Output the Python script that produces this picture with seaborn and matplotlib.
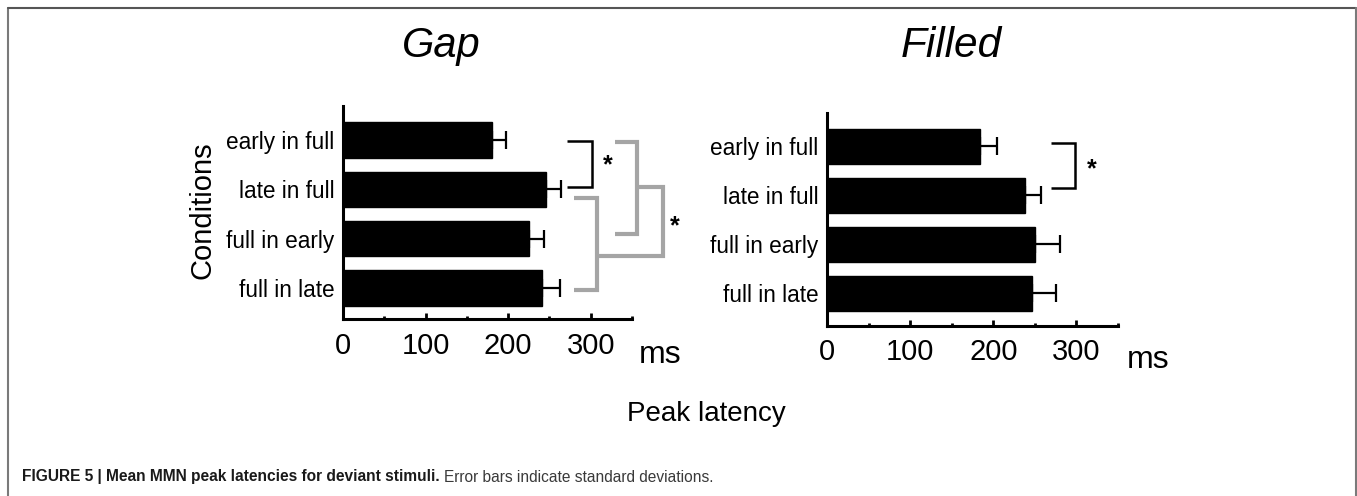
import numpy as np
import pandas as pd
import seaborn as sns
import matplotlib.pyplot as plt
from matplotlib.lines import Line2D

# Data (ms)
conditions = ['early in full', 'late in full', 'full in early', 'full in late']
gap_mean = [181, 246, 225, 241]
gap_sd = [17, 18, 19, 22]
filled_mean = [184, 238, 250, 246]
filled_sd = [21, 19, 30, 29]

sns.set_style('ticks')
plt.rcParams['font.family'] = ['Liberation Sans', 'DejaVu Sans']
plt.rcParams['text.color'] = 'black'
plt.rcParams['xtick.color'] = 'black'
plt.rcParams['ytick.color'] = 'black'
plt.rcParams['axes.edgecolor'] = 'black'

W, H = 1357, 496
fig = plt.figure(figsize=(W / 100, H / 100), dpi=100)


def fx(px):
    return px / W


def fy(py):
    return 1 - py / H


# Function to draw one bar panel
def draw_panel(ax, means, sds, ylim):
    df = pd.DataFrame({'cond': conditions, 'latency': means})
    sns.barplot(data=df, x='latency', y='cond', color='black', orient='h',
                errorbar=None, width=0.72, edgecolor='black', ax=ax)
    ax.errorbar(means, np.arange(len(conditions)), xerr=[np.zeros(len(sds)), sds],
                fmt='none', ecolor='black', elinewidth=1.6, capsize=6.5, capthick=1.6)
    ax.set_xlim(0, 350)
    ax.set_ylim(*ylim)
    ax.set_xticks([0, 100, 200, 300])
    ax.set_xticks([50, 150, 250, 350], minor=True)
    ax.tick_params(axis='x', which='major', direction='in', length=4, width=2,
                   labelsize=21, pad=9)
    ax.tick_params(axis='x', which='minor', direction='in', length=2, width=2)
    ax.tick_params(axis='y', length=0, labelsize=16.3, pad=6)
    for s in ['top', 'right']:
        ax.spines[s].set_visible(False)
    for s in ['left', 'bottom']:
        ax.spines[s].set_linewidth(2.2)
    ax.set_xlabel('')
    ax.set_ylabel('')


def bracket(ax, x0, x1, y0, y1, color, lw):
    ax.plot([x0, x1, x1, x0], [y0, y0, y1, y1], color=color, lw=lw,
            clip_on=False, solid_joinstyle='miter', solid_capstyle='butt')


ax1 = fig.add_axes([fx(343), fy(319), fx(632) - fx(343), fy(106) - fy(319)])
draw_panel(ax1, gap_mean, gap_sd, (3.63, -0.69))
ax2 = fig.add_axes([fx(827), fy(326), fx(1118) - fx(827), fy(113) - fy(326)])
draw_panel(ax2, filled_mean, filled_sd, (3.67, -0.68))

# Significance brackets - Gap
grey = '#a5a5a5'
bracket(ax1, 271, 301.5, 0.01, 0.95, 'black', 1.8)
ax1.text(321, 0.52, '*', fontsize=18, fontweight='bold', ha='center', va='center')
bracket(ax1, 280, 307.5, 1.18, 3.04, grey, 3)
bracket(ax1, 330, 356, 0.03, 1.90, grey, 3)
ax1.plot([307.5, 387, 387, 356], [2.36, 2.36, 0.95, 0.95], color=grey, lw=3,
         clip_on=False, solid_joinstyle='miter')
ax1.text(402, 1.74, '*', fontsize=18, fontweight='bold', ha='center', va='center')

# Significance bracket - Filled
bracket(ax2, 269, 298, -0.07, 0.86, 'black', 1.8)
ax2.text(318, 0.46, '*', fontsize=18, fontweight='bold', ha='center', va='center')

# Titles and labels
fig.text(fx(441), fy(56.7), 'Gap', fontsize=30, style='italic', ha='center', va='baseline')
fig.text(fx(951), fy(56.7), 'Filled', fontsize=30.5, style='italic', ha='center', va='baseline')
fig.text(fx(202), fy(210), 'Conditions', fontsize=21, rotation=90, ha='center', va='center')
fig.text(fx(660), fy(363), 'ms', fontsize=23, ha='center', va='baseline')
fig.text(fx(1148), fy(368), 'ms', fontsize=23, ha='center', va='baseline')
fig.text(fx(706), fy(421), 'Peak latency', fontsize=20, ha='center', va='baseline')

# Caption
cap1 = fig.text(fx(22), fy(481.5), 'FIGURE 5 | Mean MMN peak latencies for deviant stimuli.',
                fontsize=11.2, fontweight='bold', color='#1a1a1a', va='baseline')
fig.canvas.draw()
bb = cap1.get_window_extent()
fig.text((bb.x1 + 4) / W, fy(481.5), 'Error bars indicate standard deviations.',
         fontsize=11.2, color='#3a3a3a', va='baseline')

# Frame around the figure
frame = '#7a7a7a'
fig.add_artist(Line2D([fx(7.5), fx(7.5)], [0, fy(8)], color=frame, lw=1.5))
fig.add_artist(Line2D([fx(7.5), fx(1355.5)], [fy(8), fy(8)], color='#555555', lw=1.5))
fig.add_artist(Line2D([fx(1355.5), fx(1355.5)], [0, fy(8)], color=frame, lw=1.5))

fig.savefig('out.png', dpi=100)
